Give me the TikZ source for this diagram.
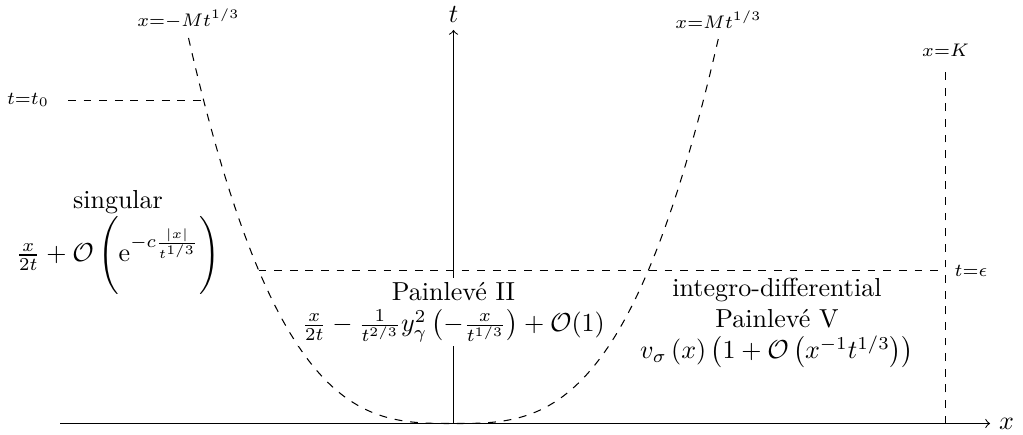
\documentclass[tikz,border=0pt]{standalone}
\usepackage{amsmath}
\begin{document}
\begin{tikzpicture}[x=0.3842pt,y=-0.3842pt,
  axis/.style={->},
  guide/.style={dashed},
  region/.style={align=center},
  covering/.style={region, fill=white, inner sep=1.5pt}]
\useasboundingbox (0,0) rectangle (1023,435);
% axes
\coordinate (O) at (453.5,423.5);
\coordinate (xs) at (60,423.5);
\coordinate (xe) at (990,423.5);
\coordinate (te) at (453.5,30);
\draw[axis] (xs) -- (xe);
\draw[axis] (O) -- (te);
\node[right] (xlab) at (xe) {$x$};
\node (tlab) at (453.5,15) {$t$};
% curves x = +-M t^{1/3}
\draw[guide] plot[domain=-1:1,samples=161] ({453.5+265*\x},{423.5-385.5*abs(\x)^3});
\coordinate (lt) at (188.5,38);
\coordinate (rt) at (718.5,38);
\node[above] (ltlab) at (lt) {$\scriptstyle x=-Mt^{1/3}$};
\node[above] (rtlab) at (rt) {$\scriptstyle x=Mt^{1/3}$};
% t = t0
\coordinate (t0s) at (68,100.5);
\coordinate (t0e) at (203.5,100.5);
\draw[guide] (t0s) -- (t0e);
\node (t0lab) at (28,100) {$\scriptstyle t=t_0$};
% x = K
\coordinate (Kb) at (945.5,423.5);
\coordinate (Kt) at (945.5,66);
\draw[guide] (Kb) -- (Kt);
\node[above] (Klab) at (Kt) {$\scriptstyle x=K$};
% t = eps
\coordinate (es) at (258.6,270.5);
\coordinate (ee) at (945.5,270.5);
\draw[guide] (es) -- (ee);
\node[right] (elab) at (ee) {$\scriptstyle t=\epsilon$};
% regions
\node[region] (sing) at (118,242) {singular\\ $\frac{x}{2t}+\mathcal{O}\,\Biggl(\mathrm{e}^{-c\frac{|x|}{t^{1/3}}}\Biggr)$};
\node[covering] (p2) at (453.5,312) {Painlev\'e II\\ $\frac{x}{2t}-\frac{1}{t^{2/3}}y_\gamma^2\left(-\frac{x}{t^{1/3}}\right)+\mathcal{O}(1)$};
\node[region] (p5) at (777,323) {integro-differential\\ Painlev\'e V\\ $v_\sigma\left(x\right)\left(1+\mathcal{O}\left(x^{-1}t^{1/3}\right)\right)$};
\end{tikzpicture}
\end{document}
